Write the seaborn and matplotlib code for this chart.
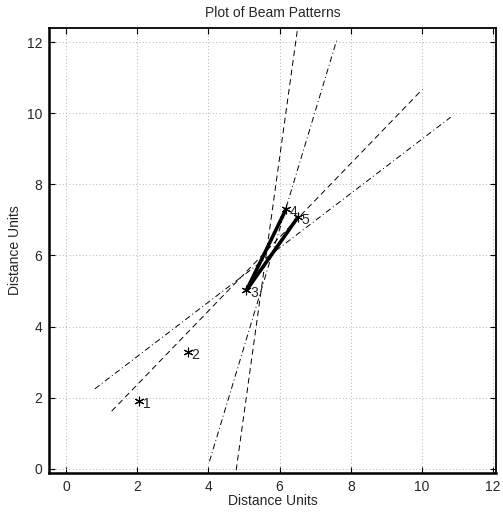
import seaborn as sns
import pandas as pd
import matplotlib.pyplot as plt

# sensor positions
point_x = [2.06, 3.42, 5.07, 6.18, 6.51]
point_y = [1.90, 3.28, 5.02, 7.30, 7.07]
point_labels = ['1', '2', '3', '4', '5']

# beam edges (start x, start y, end x, end y)
beam_x0 = [4.78, 1.28, 4.03, 0.81]
beam_y0 = [-0.04, 1.62, 0.21, 2.25]
beam_x1 = [6.51, 10.02, 7.60, 10.81]
beam_y1 = [12.42, 10.68, 12.04, 9.89]
beam_style = ['dashed', 'dashed', 'dashdot', 'dashdot']

# thick links from sensor 3
link_from = [2, 2]
link_to = [3, 4]

sns.set_style('white')
plt.rcParams['font.family'] = ['Liberation Sans', 'DejaVu Sans']

fig = plt.figure(figsize=(5.03, 5.17), dpi=100)
ax = fig.add_axes([0.0974, 0.085, 0.8886, 0.861])

rows = []
for i in range(len(beam_x0)):
    rows.append({'x': beam_x0[i], 'y': beam_y0[i], 'beam': i, 'style': beam_style[i]})
    rows.append({'x': beam_x1[i], 'y': beam_y1[i], 'beam': i, 'style': beam_style[i]})
beams = pd.DataFrame(rows)

for i, g in beams.groupby('beam'):
    ls = (0, (6, 4)) if g['style'].iloc[0] == 'dashed' else (0, (6, 3, 1, 3))
    sns.lineplot(data=g, x='x', y='y', sort=False, estimator=None, color='black',
                 lw=0.7, linestyle=ls, ax=ax)

for a, b in zip(link_from, link_to):
    link = pd.DataFrame({'x': [point_x[a], point_x[b]], 'y': [point_y[a], point_y[b]]})
    sns.lineplot(data=link, x='x', y='y', sort=False, estimator=None, color='black',
                 lw=2.6, ax=ax)

pts = pd.DataFrame({'x': point_x, 'y': point_y})
sns.scatterplot(data=pts, x='x', y='y', marker=(6, 2, 0), s=40, color='black',
                edgecolor='black', linewidth=0.8, ax=ax, zorder=5)
for x, y, lab in zip(point_x, point_y, point_labels):
    ax.annotate(lab, (x, y), xytext=(2.5, -2), textcoords='offset points',
                fontsize=10, va='center', ha='left')

ax.set_xlim(-0.48, 12.08)
ax.set_ylim(-0.12, 12.4)
ax.set_xticks(range(0, 13, 2))
ax.set_yticks(range(0, 13, 2))
ax.grid(True, linestyle=(0, (1, 3)), color='#999999', lw=0.6)
ax.tick_params(direction='in', length=4, labelsize=10, top=True, right=True,
               bottom=True, left=True, color='black', pad=5)
for sp in ax.spines.values():
    sp.set_color('black')
    sp.set_linewidth(1.3)
ax.spines['left'].set_linewidth(1.8)
ax.spines['bottom'].set_linewidth(1.8)

ax.set_xlabel('Distance Units', fontsize=10, labelpad=0)
ax.set_ylabel('Distance Units', fontsize=10, labelpad=3)
ax.set_title('Plot of Beam Patterns', fontsize=10, pad=8)

fig.savefig('out.png', dpi=100)
